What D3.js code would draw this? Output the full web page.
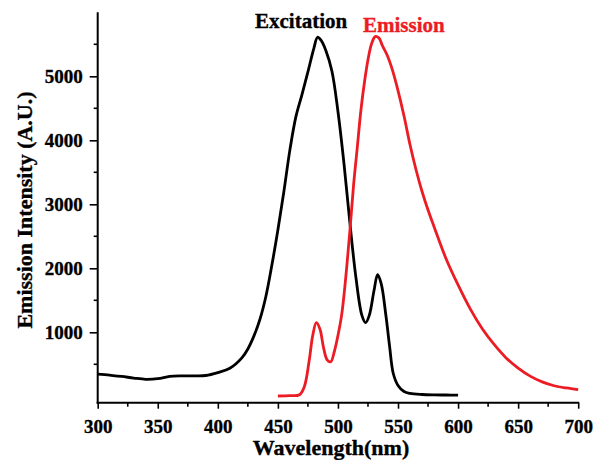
<!DOCTYPE html>
<html>
<head>
<meta charset="utf-8">
<script src="https://cdn.jsdelivr.net/npm/d3@7/dist/d3.min.js"></script>
<style>
  html, body { margin: 0; padding: 0; background: #fff; }
  svg { display: block; }
  text { font-family: "Liberation Serif", "Times New Roman", serif; font-weight: bold; }
</style>
</head>
<body>
<svg id="chart" width="597" height="460"></svg>
<script>
// Excitation spectrum (black)
const excWavelength = [300, 310, 320, 330, 340, 350, 360, 370, 380, 390, 400, 410, 420, 425, 430, 435, 440, 445, 450, 455, 460, 465, 470, 475, 480, 483, 486, 490, 495, 500, 505, 510, 515, 520, 523, 526, 530, 533, 536, 540, 543, 546, 550, 555, 560, 570, 580, 590, 600];
const excIntensity  = [348, 330, 310, 285, 265, 275, 312, 320, 320, 325, 370, 437, 600, 740, 940, 1200, 1560, 2050, 2600, 3200, 3850, 4370, 4710, 5070, 5440, 5610, 5560, 5400, 5080, 4450, 3640, 2700, 1850, 1260, 1150, 1260, 1650, 1900, 1760, 1250, 780, 360, 170, 75, 45, 28, 22, 20, 18];

// Emission spectrum (red)
const emWavelength = [450, 460, 468, 472, 476, 479, 482, 485, 488, 491, 494, 497, 500, 503, 506, 510, 513, 516, 519, 522, 525, 528, 531, 534, 537, 541, 545, 549, 555, 560, 565, 570, 575, 580, 590, 600, 610, 620, 630, 640, 650, 660, 670, 680, 690, 700];
const emIntensity  = [5, 10, 25, 150, 550, 950, 1150, 1050, 760, 570, 540, 700, 950, 1260, 1760, 2600, 3300, 3870, 4450, 4900, 5260, 5510, 5620, 5600, 5480, 5330, 5120, 4850, 4380, 3930, 3540, 3200, 2910, 2650, 2150, 1740, 1370, 1060, 810, 600, 440, 315, 225, 165, 130, 105];

// Axis ticks
const xMajorTicks = [300, 350, 400, 450, 500, 550, 600, 650, 700];
const xMinorTicks = [325, 375, 425, 475, 525, 575, 625, 675];
const yMajorTicks = [1000, 2000, 3000, 4000, 5000];
const yMinorTicks = [500, 1500, 2500, 3500, 4500, 5500];

const xLabel = "Wavelength(nm)";
const yLabel = "Emission Intensity (A.U.)";
const seriesNames = ["Excitation", "Emission"];
const colors = { exc: "#000000", em: "#ec1c24" };

const svg = d3.select("#chart");

const x = d3.scaleLinear().domain([300, 700]).range([97.7, 578.2]);
const y = d3.scaleLinear().domain([-100, 6000]).range([402.7, 12.3]);

function boldText(sel, size, color) {
  sel.attr("font-size", size).attr("fill", color)
    .attr("font-family", "'Liberation Serif', 'Times New Roman', serif")
    .attr("font-weight", "bold")
    .attr("stroke", color).attr("stroke-width", 0.35);
}

// X axis
const xAxisG = svg.append("g").attr("transform", `translate(0,${y(-100)})`);
xAxisG.call(d3.axisBottom(x).tickValues(xMajorTicks).tickSize(6).tickSizeOuter(0).tickFormat(d3.format("d")));
xAxisG.append("g").selectAll("line").data(xMinorTicks).join("line")
  .attr("x1", d => x(d)).attr("x2", d => x(d))
  .attr("y1", 0).attr("y2", 4)
  .attr("stroke", "#000").attr("stroke-width", 1.6);
xAxisG.select(".domain").attr("stroke-width", 2).attr("d", `M${x(300)-1},0H${x(700)+1}`);
xAxisG.selectAll(".tick line").attr("stroke-width", 1.6);
xAxisG.selectAll(".tick text").call(boldText, 19, "#000").attr("dy", null).attr("y", 30);

// Y axis
const yAxisG = svg.append("g").attr("transform", `translate(${x(300)},0)`);
yAxisG.call(d3.axisLeft(y).tickValues(yMajorTicks).tickSize(8).tickSizeOuter(0).tickFormat(d3.format("d")));
yAxisG.append("g").selectAll("line").data(yMinorTicks).join("line")
  .attr("x1", 0).attr("x2", -4)
  .attr("y1", d => y(d)).attr("y2", d => y(d))
  .attr("stroke", "#000").attr("stroke-width", 1.6);
yAxisG.select(".domain").attr("stroke-width", 2).attr("d", `M0,${y(-100)+1}V${y(6000)}`);
yAxisG.selectAll(".tick line").attr("stroke-width", 1.6);
yAxisG.selectAll(".tick text").call(boldText, 19, "#000").attr("x", -15).attr("dy", "0.34em");

// Lines
const line = d3.line().x(d => x(d[0])).y(d => y(d[1])).curve(d3.curveCatmullRom.alpha(0.5));

svg.append("path")
  .datum(excWavelength.map((w, i) => [w, excIntensity[i]]))
  .attr("fill", "none").attr("stroke", colors.exc).attr("stroke-width", 2.8)
  .attr("stroke-linejoin", "round").attr("d", line);

svg.append("path")
  .datum(emWavelength.map((w, i) => [w, emIntensity[i]]))
  .attr("fill", "none").attr("stroke", colors.em).attr("stroke-width", 2.8)
  .attr("stroke-linejoin", "round").attr("d", line);

// Series labels
svg.append("text").attr("x", 255).attr("y", 28).call(boldText, 21, colors.exc).text(seriesNames[0]);
svg.append("text").attr("x", 363).attr("y", 32).call(boldText, 21, colors.em).text(seriesNames[1]);

// Axis titles
svg.append("text").attr("x", 331).attr("y", 455)
  .attr("text-anchor", "middle").call(boldText, 22, "#000").text(xLabel);
svg.append("text").attr("transform", "translate(32,210) rotate(-90)")
  .attr("text-anchor", "middle").call(boldText, 22, "#000").text(yLabel);
</script>
</body>
</html>
